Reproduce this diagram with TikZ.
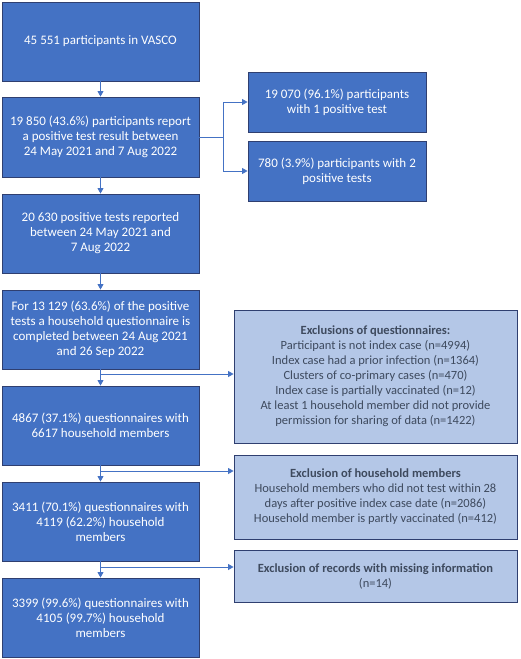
\documentclass[tikz,border=0pt]{standalone}
\usepackage{fontspec}
\setmainfont{Carlito}
\usetikzlibrary{arrows.meta}
\definecolor{boxblue}{HTML}{4472C4}
\definecolor{paleblue}{HTML}{B4C7E7}
\definecolor{edgeblue}{HTML}{2F3F70}
\definecolor{slatetext}{HTML}{3E4A5E}
\begin{document}
\begin{tikzpicture}[x=1pt,y=-1pt,
  mainbox/.style={draw=edgeblue,line width=0.9pt,fill=boxblue,text=white,
    minimum width=197pt,minimum height=79pt,inner sep=0pt,align=center,
    font=\fontsize{13}{15}\selectfont},
  sidebox/.style={mainbox,minimum width=178pt,minimum height=60pt},
  exclbox/.style={draw=edgeblue,line width=0.9pt,fill=paleblue,text=slatetext,
    minimum width=283pt,inner sep=0pt,align=center,
    font=\fontsize{12.5}{15}\selectfont},
  flow/.style={draw=boxblue,line width=0.8pt,-{Triangle[length=5.5pt,width=6pt]}}]
\useasboundingbox (0,0) rectangle (520,659);
% main column
\node[mainbox] (vasco) at (100.5,41.5) {45 551 participants in VASCO};
\node[mainbox,minimum height=80pt] (report) at (100.5,137) {19 850 (43.6\%) participants report\\a positive test result between\\24 May 2021 and 7 Aug 2022};
\node[mainbox] (tests) at (100.5,233.5) {20 630 positive tests reported\\between 24 May 2021 and\\7 Aug 2022};
\node[mainbox] (quest) at (100.5,329.5) {For 13 129 (63.6\%) of the positive\\tests a household questionnaire is\\completed between 24 Aug 2021\\and 26 Sep 2022};
\node[mainbox] (hh) at (100.5,425.5) {4867 (37.1\%) questionnaires with\\6617 household members};
\node[mainbox] (hhtest) at (100.5,521.5) {3411 (70.1\%) questionnaires with\\4119 (62.2\%) household\\members};
\node[mainbox] (final) at (100.5,617.5) {3399 (99.6\%) questionnaires with\\4105 (99.7\%) household\\members};
% split of participants
\node[sidebox] (one) at (337,102) {19 070 (96.1\%) participants\\with 1 positive test};
\node[sidebox] (two) at (337,171) {780 (3.9\%) participants with 2\\positive tests};
% exclusions
\node[exclbox,minimum height=133pt] (exq) at (375.5,376.5) {\textbf{Exclusions of questionnaires:}\\Participant is not index case (n=4994)\\Index case had a prior infection (n=1364)\\Clusters of co-primary cases (n=470)\\Index case is partially vaccinated (n=12)\\At least 1 household member did not provide\\permission for sharing of data (n=1422)};
\node[exclbox,minimum height=84pt] (exhh) at (375.5,497) {\textbf{Exclusion of household members}\\Household members who did not test within 28\\days after positive index case date (n=2086)\\Household member is partly vaccinated (n=412)};
\node[exclbox,minimum height=52pt] (exmiss) at (375.5,576) {\textbf{Exclusion of records with missing information}\\(n=14)};
\draw[flow] (vasco) -- (report);
\draw[flow] (report) -- (tests);
\draw[flow] (tests) -- (quest);
\draw[flow] (quest) -- (hh);
\draw[flow] (hh) -- (hhtest);
\draw[flow] (hhtest) -- (final);
\coordinate (fork) at (223,137);
\draw[draw=boxblue,line width=0.8pt] (report.east) -- (fork);
\draw[flow] (fork) |- (one.west);
\draw[flow] (fork) |- (two.west);
\coordinate (offq) at (100.5,374);
\coordinate (offhh) at (100.5,471);
\coordinate (offmiss) at (100.5,567);
\draw[flow] (offq) -- (exq.west |- offq);
\draw[flow] (offhh) -- (exhh.west |- offhh);
\draw[flow] (offmiss) -- (exmiss.west |- offmiss);
\end{tikzpicture}
\end{document}
